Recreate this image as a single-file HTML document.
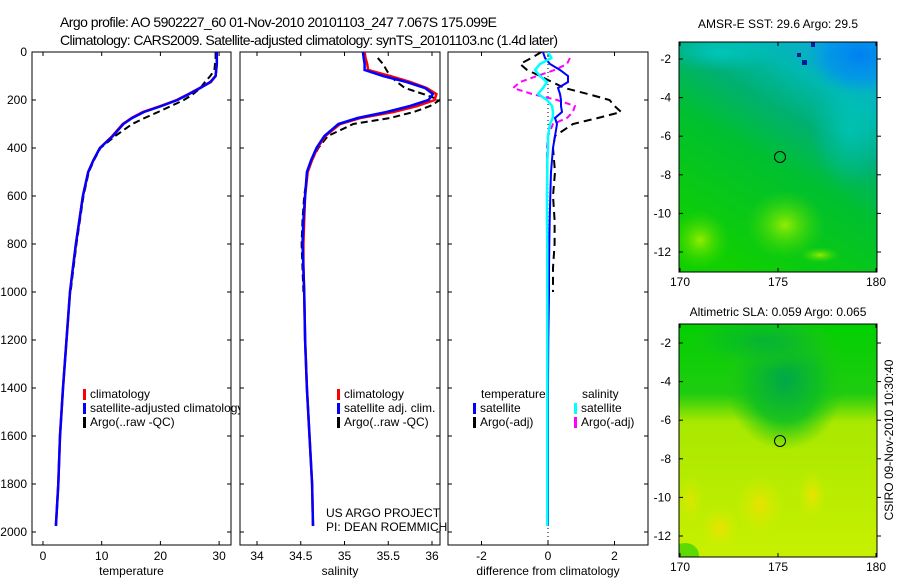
<!DOCTYPE html>
<html><head><meta charset="utf-8"><style>
html,body{margin:0;padding:0;background:#fff;}
svg{display:block;font-family:"Liberation Sans",sans-serif;}
</style></head><body>
<svg id="fig" width="900" height="580" viewBox="0 0 900 580">
<defs>
 <linearGradient id="sstg" x1="0.8" y1="0" x2="0.3" y2="1">
  <stop offset="0" stop-color="#10a8d8"/><stop offset="0.18" stop-color="#00b8b0"/>
  <stop offset="0.35" stop-color="#00b070"/><stop offset="0.55" stop-color="#00c030"/>
  <stop offset="1" stop-color="#10d000"/>
 </linearGradient>
 <radialGradient id="sstp1" cx="0.5" cy="0.5" r="0.5"><stop offset="0" stop-color="#a0f000" stop-opacity="0.9"/><stop offset="1" stop-color="#40d800" stop-opacity="0"/></radialGradient>
 <radialGradient id="sstp2" cx="0.5" cy="0.5" r="0.5"><stop offset="0" stop-color="#0080f0" stop-opacity="1"/><stop offset="0.6" stop-color="#0090f0" stop-opacity="0.7"/><stop offset="1" stop-color="#00a0e0" stop-opacity="0"/></radialGradient>
 <radialGradient id="sstp3" cx="0.5" cy="0.5" r="0.5"><stop offset="0" stop-color="#00c8c0" stop-opacity="0.9"/><stop offset="1" stop-color="#00c0c0" stop-opacity="0"/></radialGradient>
 <linearGradient id="slag" x1="0" y1="0" x2="0" y2="1">
  <stop offset="0" stop-color="#00d000"/><stop offset="0.3" stop-color="#20cc10"/>
  <stop offset="0.42" stop-color="#a8e800"/><stop offset="1" stop-color="#c8f000"/>
 </linearGradient>
 <radialGradient id="slav" cx="0.5" cy="0.5" r="0.5"><stop offset="0" stop-color="#00a848"/><stop offset="0.6" stop-color="#10c020" stop-opacity="0.9"/><stop offset="1" stop-color="#20c810" stop-opacity="0"/></radialGradient>
 <radialGradient id="slay" cx="0.5" cy="0.5" r="0.5"><stop offset="0" stop-color="#f0e000" stop-opacity="0.9"/><stop offset="1" stop-color="#d0f000" stop-opacity="0"/></radialGradient>
 <clipPath id="c1"><rect x="32" y="52" width="199" height="493"/></clipPath>
 <clipPath id="c2"><rect x="240" y="52" width="200" height="493"/></clipPath>
 <clipPath id="c3"><rect x="448" y="52" width="200" height="493"/></clipPath>
 <clipPath id="m1"><rect x="679" y="42" width="198" height="230"/></clipPath>
 <clipPath id="m2"><rect x="679" y="324" width="198" height="233"/></clipPath>
</defs>
<text x="60" y="27" font-size="14" textLength="437">Argo profile: AO 5902227_60 01-Nov-2010 20101103_247 7.067S 175.099E</text>
<text x="60" y="45" font-size="14" textLength="498">Climatology: CARS2009. Satellite-adjusted climatology: synTS_20101103.nc (1.4d later)</text>
<g id="plots"></g>
<!-- maps -->
<g>
 <text x="778" y="28" font-size="12" text-anchor="middle">AMSR-E SST: 29.6 Argo: 29.5</text>
 <g clip-path="url(#m1)">
 <rect x="679" y="42" width="198" height="230" fill="url(#sstg)"/>
 <ellipse cx="720" cy="52" rx="60" ry="20" fill="url(#sstp3)"/>
 <ellipse cx="850" cy="130" rx="40" ry="60" fill="url(#sstp3)" opacity="0.8"/>
 <ellipse cx="700" cy="240" rx="30" ry="30" fill="url(#sstp1)"/>
 <ellipse cx="785" cy="225" rx="40" ry="35" fill="url(#sstp1)"/>
 <ellipse cx="820" cy="255" rx="20" ry="8" fill="url(#sstp1)"/>
 <ellipse cx="860" cy="55" rx="55" ry="40" fill="url(#sstp2)"/>
 <rect x="802" y="60" width="5" height="5" fill="#001a9c"/><rect x="797" y="53" width="4" height="4" fill="#002090"/><rect x="811" y="42" width="4" height="5" fill="#001a9c"/>
 </g>
 <rect x="679" y="42" width="198" height="230" fill="none" stroke="#000" stroke-width="1"/>
 <circle cx="780" cy="157" r="5.5" fill="none" stroke="#000"/>
</g>
<g>
 <text x="778" y="316" font-size="12" text-anchor="middle">Altimetric SLA: 0.059 Argo: 0.065</text>
 <g clip-path="url(#m2)">
 <rect x="679" y="324" width="198" height="233" fill="url(#slag)"/>
 <ellipse cx="785" cy="380" rx="60" ry="70" fill="url(#slav)"/>
 <ellipse cx="760" cy="340" rx="80" ry="30" fill="url(#slav)" opacity="0.6"/>
 <ellipse cx="760" cy="505" rx="25" ry="30" fill="url(#slay)"/>
 <ellipse cx="720" cy="528" rx="20" ry="22" fill="url(#slay)"/>
 <ellipse cx="812" cy="495" rx="15" ry="25" fill="url(#slay)"/>
 <ellipse cx="690" cy="500" rx="14" ry="25" fill="url(#slay)" opacity="0.7"/>
 <ellipse cx="685" cy="555" rx="14" ry="12" fill="#30d000" opacity="0.7"/>
 </g>
 <rect x="679" y="324" width="198" height="233" fill="none" stroke="#000" stroke-width="1"/>
 <circle cx="780" cy="441" r="5.5" fill="none" stroke="#000"/>
</g>
<text transform="translate(893,440) rotate(-90)" font-size="12" text-anchor="middle">CSIRO 09-Nov-2010 10:30:40</text>
<g id="mapaxes"></g>
</svg>
<script>
const depths=[0,25,50,75,100,125,150,175,200,225,250,275,300,350,400,450,500,600,700,800,900,1000,1200,1400,1600,1800,1975];
const tempClim=[29.6,29.6,29.6,29.5,29.4,28.6,26.7,24.8,22.8,20,17,15.1,13.6,11.8,9.7,8.6,7.7,6.8,6.2,5.6,5.1,4.6,4.0,3.4,2.9,2.6,2.2];
const tempSat=[29.6,29.6,29.6,29.5,29.4,28.5,26.8,24.9,22.9,20.2,17.2,15.2,13.7,11.9,9.7,8.6,7.7,6.8,6.2,5.6,5.1,4.6,4.0,3.4,2.9,2.6,2.2];
const argoDepths=[0,25,50,75,100,125,150,175,200,225,250,275,300,350,400,450,500,600,700,800,900,1000];
const tempArgo=[29.4,29.4,29.3,29.2,28.5,27.6,26.8,25.6,24.0,21.8,19.6,17.3,15.2,12.3,9.8,8.7,7.8,6.9,6.3,5.7,5.2,4.7];
const salClim=[35.23,35.24,35.26,35.27,35.52,35.75,35.94,36.05,36.03,35.83,35.56,35.18,34.95,34.78,34.69,34.63,34.58,34.55,34.54,34.53,34.53,34.54,34.55,34.57,34.6,34.63,34.64];
const salSat=[35.21,35.22,35.23,35.23,35.44,35.71,35.92,36.01,35.96,35.75,35.48,35.15,34.93,34.77,34.68,34.62,34.57,34.55,34.53,34.52,34.53,34.54,34.55,34.57,34.6,34.63,34.64];
const salArgo=[null,35.38,35.44,35.48,35.52,35.6,35.69,35.9,36.09,35.98,35.79,35.52,35.1,34.81,34.7,34.63,34.58,34.54,34.52,34.51,34.52,34.53];
const dTempSat=[-0.15,-0.09,0.06,0.36,0.6,0.6,0.3,0.36,0.39,0.39,0.42,0.21,0.27,0.21,0.15,0.12,0.09,0.07,0.05,0.04,0.03,0.03,0.01,0,0,0,0];
const dTempArgo=[-0.2,-0.5,-0.84,-0.63,-0.24,0.12,0.5,1.2,1.85,2.0,2.2,1.5,0.75,0.21,0.15,0.18,0.21,0.15,0.2,0.2,0.15,0.15];
const dSalSat=[0,0.1,-0.24,-0.39,-0.24,-0.03,-0.15,-0.3,-0.03,0.12,0.15,0.14,0.06,0,0,-0.02,-0.02,-0.03,-0.03,-0.02,-0.02,-0.02,-0.02,-0.02,-0.02,-0.02,-0.02];
const dSalArgo=[null,0.66,0.57,0.2,-0.33,-0.84,-1.05,-0.48,0.27,0.81,0.75,0.57,0.15,0,-0.03,-0.03,-0.03,-0.03,-0.03,-0.03,-0.03,-0.03];
const depthTicks=[0,200,400,600,800,1000,1200,1400,1600,1800,2000];
const tempTicks=[0,10,20,30];
const salTicks=[34,34.5,35,35.5,36];
const diffTicks=[-2,0,2];
const lonTicks=[170,175,180];
const latTicks=[-2,-4,-6,-8,-10,-12];

const NS='http://www.w3.org/2000/svg';
const plots=document.getElementById('plots');
function mk(tag,attrs,parent){const e=document.createElementNS(NS,tag);for(const k in attrs)e.setAttribute(k,attrs[k]);(parent||plots).appendChild(e);return e;}
const yD=d=>52+d*0.24;
const panels=[
 {x0:32,x1:231,xs:v=>43+v*5.87,ticks:tempTicks,label:'temperature',clip:'c1',name:'temperature-panel'},
 {x0:240,x1:440,xs:v=>257+(v-34)*87.5,ticks:salTicks,label:'salinity',clip:'c2',name:'salinity-panel'},
 {x0:448,x1:648,xs:v=>548+v*33.25,ticks:diffTicks,label:'difference from climatology',clip:'c3',name:'difference-panel'}
];
function line(g,xs,ds,vals,color,w,dash,clip,name){
 let p='';let pen=false;
 vals.forEach((v,i)=>{if(v===null){pen=false;return;}p+=(pen?'L':'M')+xs(v).toFixed(1)+' '+yD(ds[i]).toFixed(1);pen=true;});
 const e=mk('path',{d:p,fill:'none',stroke:color,'stroke-width':w,'clip-path':'url(#'+clip+')'},g);
 if(dash)e.setAttribute('stroke-dasharray',dash);
 
 
}
function legend(g,x,y,color,text,name){
 mk('rect',{x:x,y:y-9,width:3,height:11,fill:color},g);
 const t=mk('text',{x:x+7,y:y,'font-size':12},g);t.textContent=text;
 
 
}
panels.forEach((P,pi)=>{
 const g=mk('g',{});
 
 
 mk('rect',{x:P.x0,y:52,width:P.x1-P.x0,height:493,fill:'#fff',stroke:'#000','stroke-width':1},g);
 depthTicks.forEach(d=>{
  mk('line',{x1:P.x0,x2:P.x0+4,y1:yD(d),y2:yD(d),stroke:'#000'},g);
  mk('line',{x1:P.x1,x2:P.x1-4,y1:yD(d),y2:yD(d),stroke:'#000'},g);
  if(pi===0){const t=mk('text',{x:27,y:yD(d)+4,'font-size':12,'text-anchor':'end'},g);t.textContent=d;
   
   }
 });
 P.ticks.forEach(v=>{
  const x=P.xs(v);
  mk('line',{x1:x,x2:x,y1:52,y2:56,stroke:'#000'},g);
  mk('line',{x1:x,x2:x,y1:545,y2:541,stroke:'#000'},g);
  const t=mk('text',{x:x,y:560,'font-size':12,'text-anchor':'middle'},g);t.textContent=v;
  
  
 });
 const lab=mk('text',{x:(P.x0+P.x1)/2,y:575,'font-size':12,'text-anchor':'middle'},g);lab.textContent=P.label;
 
 
 if(pi===0){
  line(g,P.xs,argoDepths,tempArgo,'#000',2,'7,4',P.clip,'temp-argo-line');
  line(g,P.xs,depths,tempClim,'#f00',2.5,null,P.clip,'temp-climatology-line');
  line(g,P.xs,depths,tempSat,'#00f',2.5,null,P.clip,'temp-satellite-line');
  legend(g,83,398,'#f00','climatology','legend-climatology');
  legend(g,83,412,'#00f','satellite-adjusted climatology','legend-satellite');
  legend(g,83,426,'#000','Argo(..raw -QC)','legend-argo');
 } else if(pi===1){
  line(g,P.xs,argoDepths,salArgo,'#000',2,'7,4',P.clip,'sal-argo-line');
  line(g,P.xs,depths,salClim,'#f00',2.5,null,P.clip,'sal-climatology-line');
  line(g,P.xs,depths,salSat,'#00f',2.5,null,P.clip,'sal-satellite-line');
  legend(g,337,398,'#f00','climatology','legend-climatology');
  legend(g,337,412,'#00f','satellite adj. clim.','legend-satellite');
  legend(g,337,426,'#000','Argo(..raw -QC)','legend-argo');
 } else {
  mk('line',{x1:548,x2:548,y1:52,y2:545,stroke:'#000','stroke-dasharray':'1,3'},g);
  line(g,P.xs,argoDepths,dTempArgo,'#000',2,'8,5',P.clip,'diff-temp-argo-line');
  line(g,P.xs,argoDepths,dSalArgo,'#f0f',2,'6,4',P.clip,'diff-sal-argo-line');
  line(g,P.xs,depths,dTempSat,'#00f',2,null,P.clip,'diff-temp-satellite-line');
  line(g,P.xs,depths,dSalSat,'#0ff',2.5,null,P.clip,'diff-sal-satellite-line');
  const t1=mk('text',{x:481,y:398,'font-size':12},g);t1.textContent='temperature';
  
  
  const t2=mk('text',{x:582,y:398,'font-size':12},g);t2.textContent='salinity';
  
  
  legend(g,473,412,'#00f','satellite','legend-temp-satellite');
  legend(g,473,426,'#000','Argo(-adj)','legend-temp-argo');
  legend(g,574,412,'#0ff','satellite','legend-sal-satellite');
  legend(g,574,426,'#f0f','Argo(-adj)','legend-sal-argo');
 }
});
const pt=mk('text',{x:326,y:517,'font-size':12});pt.textContent='US ARGO PROJECT';


const pi2=mk('text',{x:326,y:531,'font-size':12});pi2.textContent='PI: DEAN ROEMMICH';



const ma=document.getElementById('mapaxes');
[{top:42,bot:272,y2:59},{top:324,bot:557,y2:343}].forEach(M=>{
 const lx=v=>680+(v-170)*19.6;
 const ly=v=>M.y2+(-2-v)*19.3;
 lonTicks.forEach(v=>{
  mk('line',{x1:lx(v),x2:lx(v),y1:M.bot,y2:M.bot-4,stroke:'#000'},ma);
  mk('line',{x1:lx(v),x2:lx(v),y1:M.top,y2:M.top+4,stroke:'#000'},ma);
  const t=mk('text',{x:lx(v),y:M.bot+14,'font-size':12,'text-anchor':'middle'},ma);t.textContent=v;
  
  
 });
 latTicks.forEach(v=>{
  mk('line',{x1:679,x2:683,y1:ly(v),y2:ly(v),stroke:'#000'},ma);
  mk('line',{x1:877,x2:881,y1:ly(v),y2:ly(v),stroke:'#000'},ma);
  const t=mk('text',{x:671,y:ly(v)+4,'font-size':12,'text-anchor':'end'},ma);t.textContent=v;
  
  
 });
});
</script>
</body></html>
